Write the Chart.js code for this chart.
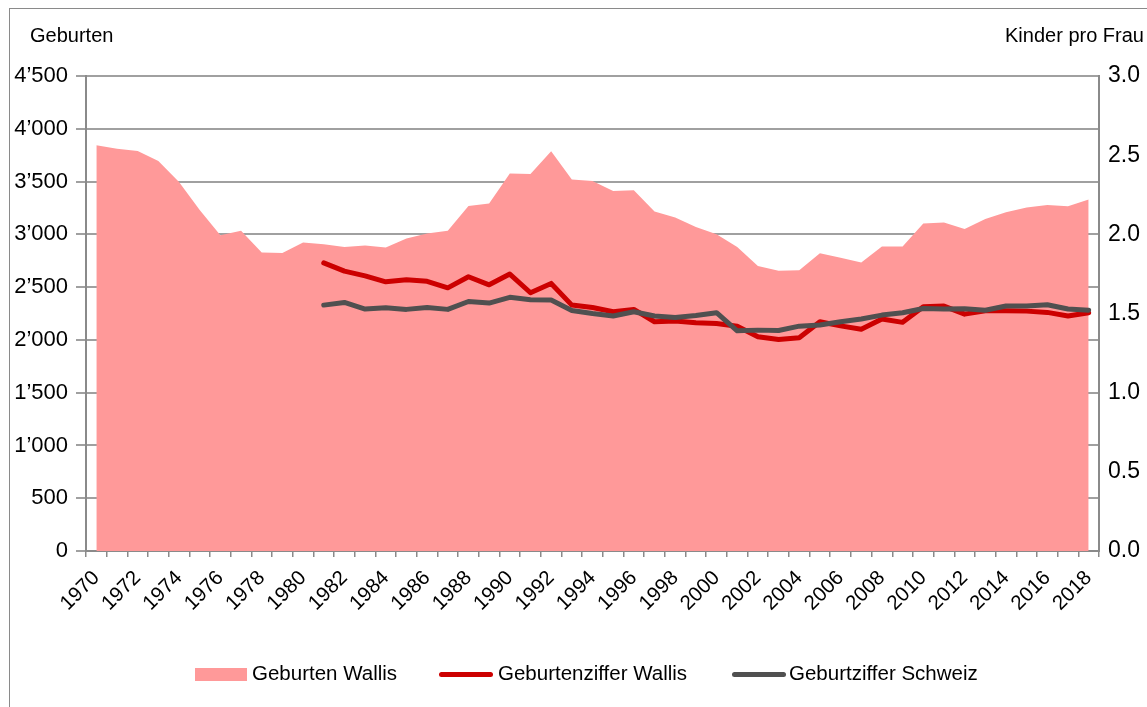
<!DOCTYPE html>
<html>
<head>
<meta charset="utf-8">
<script src="https://cdn.jsdelivr.net/npm/chart.js@4.4.1/dist/chart.umd.min.js"></script>
<style>
  body { margin: 0; background: #fff; font-family: 'Liberation Sans', Arial, sans-serif; }
  #wrap { position: relative; width: 1147px; height: 707px; overflow: hidden; }
  #frame { position: absolute; left: 9px; top: 8px; width: 1200px; height: 800px; border: 1px solid #8a8a8a; }
  .ttl { position: absolute; top: 24px; font-size: 20px; color: #000; }
  #legend { position: absolute; top: 662px; left: 0; font-size: 20.5px; color: #000; }
  .item { position: absolute; white-space: nowrap; line-height: 22px; }
  .sw { position: absolute; }
</style>
</head>
<body>
<div id="wrap">
  <div id="frame"></div>
  <canvas id="c" width="1147" height="707" style="position:absolute;left:0;top:0"></canvas>
  <div class="ttl" style="left:30px">Geburten</div>
  <div class="ttl" style="right:3px">Kinder pro Frau</div>
  <div id="legend">
    <div class="sw" style="left:195px;top:6px;width:52px;height:13px;background:#ff9999"></div>
    <div class="item" style="left:252px;top:0">Geburten Wallis</div>
    <div class="sw" style="left:439px;top:10px;width:54px;height:5px;border-radius:3px;background:#cc0000"></div>
    <div class="item" style="left:498px;top:0">Geburtenziffer Wallis</div>
    <div class="sw" style="left:732px;top:10px;width:54px;height:5px;border-radius:3px;background:#505050"></div>
    <div class="item" style="left:789px;top:0">Geburtziffer Schweiz</div>
  </div>
</div>
<script>
// years 1970..2018
const years = [];
for (let y = 1970; y <= 2018; y++) years.push(String(y));

// Geburten Wallis (births)
const birthsWallis = [3844, 3810, 3790, 3695, 3496, 3230, 2992, 3033, 2828, 2824,
  2922, 2906, 2881, 2894, 2875, 2960, 3008, 3033, 3269, 3291,
  3576, 3572, 3787, 3519, 3506, 3411, 3418, 3216, 3159, 3070,
  3001, 2881, 2701, 2654, 2660, 2821, 2777, 2733, 2884, 2884,
  3102, 3111, 3051, 3146, 3209, 3254, 3278, 3266, 3329];

// fertility rates, 1981..2018
const rateWallis = [1.82, 1.768, 1.738, 1.70, 1.713, 1.703, 1.662, 1.732, 1.681, 1.749,
  1.631, 1.69, 1.553, 1.538, 1.511, 1.526, 1.448, 1.452, 1.441, 1.437,
  1.42, 1.353, 1.336, 1.347, 1.448, 1.422, 1.40, 1.465, 1.444, 1.542,
  1.547, 1.496, 1.517, 1.517, 1.515, 1.507, 1.484, 1.505];
const rateSchweiz = [1.553, 1.57, 1.528, 1.536, 1.526, 1.538, 1.526, 1.576, 1.566, 1.602,
  1.587, 1.585, 1.519, 1.50, 1.484, 1.511, 1.484, 1.475, 1.488, 1.505,
  1.391, 1.395, 1.393, 1.42, 1.427, 1.448, 1.465, 1.49, 1.505, 1.532,
  1.528, 1.53, 1.521, 1.547, 1.547, 1.555, 1.528, 1.521];

const lead = new Array(11).fill(null); // 1970-1980 no rate data

const fontFam = "'Liberation Sans', Arial, sans-serif";

function fmtThousands(v) {
  if (v >= 1000) {
    const t = Math.floor(v / 1000);
    const r = String(v % 1000).padStart(3, '0');
    return t + '\u2019' + r;
  }
  return String(v);
}

new Chart(document.getElementById('c'), {
  type: 'line',
  data: {
    labels: years,
    datasets: [
      {
        label: 'Geburten Wallis',
        data: birthsWallis,
        yAxisID: 'y',
        fill: 'origin',
        backgroundColor: '#ff9999',
        borderWidth: 0,
        pointRadius: 0,
        tension: 0,
        order: 3
      },
      {
        label: 'Geburtenziffer Wallis',
        data: lead.concat(rateWallis),
        yAxisID: 'y1',
        borderColor: '#cc0000',
        borderWidth: 5,
        borderJoinStyle: 'round',
        borderCapStyle: 'round',
        pointRadius: 0,
        tension: 0,
        fill: false,
        order: 2
      },
      {
        label: 'Geburtziffer Schweiz',
        data: lead.concat(rateSchweiz),
        yAxisID: 'y1',
        borderColor: '#505050',
        borderWidth: 5,
        borderJoinStyle: 'round',
        borderCapStyle: 'round',
        pointRadius: 0,
        tension: 0,
        fill: false,
        order: 1
      }
    ]
  },
  options: {
    responsive: false,
    animation: false,
    layout: { padding: { top: 76, left: 0, right: 0, bottom: 0 } },
    plugins: { legend: { display: false }, tooltip: { enabled: false } },
    scales: {
      x: {
        offset: true,
        grid: { offset: true, drawOnChartArea: false, color: '#8a8a8a', lineWidth: 1.5, tickLength: 6 },
        border: { color: '#8a8a8a', width: 2 },
        ticks: {
          autoSkip: false,
          maxRotation: 45,
          minRotation: 45,
          padding: 9,
          color: '#000',
          font: { family: fontFam, size: 20.5 },
          callback: function (val, i) { return i % 2 === 0 ? years[i] : ''; }
        },
        afterFit: function (s) { s.height = 156; }
      },
      y: {
        position: 'left',
        min: 0, max: 4500,
        grid: { color: '#a0a0a0', lineWidth: 2, tickLength: 10 },
        border: { color: '#8a8a8a', width: 2 },
        ticks: {
          stepSize: 500,
          padding: 8,
          color: '#000',
          font: { family: fontFam, size: 22 },
          callback: function (v) { return fmtThousands(v); }
        },
        afterFit: function (s) { s.width = 86; }
      },
      y1: {
        position: 'right',
        min: 0, max: 3,
        grid: { drawOnChartArea: false, drawTicks: false },
        border: { color: '#8a8a8a', width: 2 },
        ticks: {
          stepSize: 0.5,
          padding: 9,
          color: '#000',
          font: { family: fontFam, size: 23 },
          callback: function (v) { return v.toFixed(1); }
        },
        afterFit: function (s) { s.width = 48; }
      }
    }
  }
});
</script>
</body>
</html>
